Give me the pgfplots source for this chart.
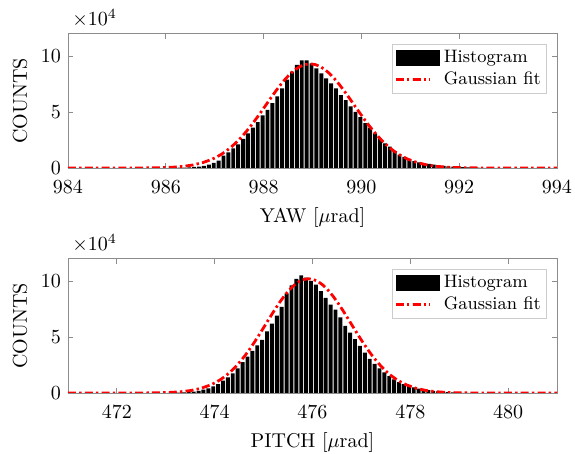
\documentclass[border=0pt]{standalone}
\usepackage{pgfplots}
\pgfplotsset{compat=1.18}
\definecolor{axgray}{gray}{0.55}
\pgfplotsset{
  histstyle/.style={
    scale only axis, width=244.5pt, height=67.2pt,
    ymin=0, ymax=120000,
    ytick={0,50000,100000},
    scaled y ticks=base 10:-4,
    tick scale binop=\times,
    every y tick scale label/.style={at={(rel axis cs:0,1)}, anchor=south west, inner sep=0pt, xshift=2pt, yshift=3pt},
    axis line style={axgray}, every tick/.style={axgray},
    tick align=inside, major tick length=2.5pt,
    xticklabel style={yshift=-3pt},
    ylabel={COUNTS},
    legend style={at={(rel axis cs:0.98,0.925)}, anchor=north east, draw=gray!40, fill=white, font=\small, inner sep=1pt, row sep=-1pt},
    legend cell align=left,
  },
  fitstyle/.style={red, line width=1.4pt, dash pattern=on 4pt off 1.6pt on 1.2pt off 1.6pt},
  barstyle/.style={ybar, bar width=0.08, fill=black, draw=none,
    legend image code/.code={\fill[black] (0pt,-4pt) rectangle (22pt,4pt);}},
}
\begin{document}
\begin{tikzpicture}
\useasboundingbox (0pt,0pt) rectangle (287.5pt,227pt);
\begin{axis}[histstyle, at={(34pt,143pt)}, anchor=south west,
  xmin=984, xmax=994, xtick={984,986,988,990,992,994},
  xlabel={YAW [$\mu$rad]}]
\addplot[barstyle] coordinates {
(986.08,100) (986.18,200) (986.28,300) (986.38,400) (986.48,600) (986.58,900)
(986.68,1300) (986.78,2000) (986.88,3000) (986.98,4500) (987.08,6500) (987.18,11000)
(987.28,14000) (987.38,17500) (987.48,21000) (987.58,26000) (987.68,31000) (987.78,36000)
(987.88,41000) (987.98,47000) (988.08,52000) (988.18,58000) (988.28,64000) (988.38,71000)
(988.48,79000) (988.58,86000) (988.68,92000) (988.78,96000) (988.88,96000) (988.98,93500)
(989.08,89000) (989.18,84500) (989.28,80000) (989.38,75500) (989.48,71000) (989.58,65000)
(989.68,60500) (989.78,55000) (989.88,50000) (989.98,45500) (990.08,40000) (990.18,36000)
(990.28,31000) (990.38,26500) (990.48,22000) (990.58,19000) (990.68,15000) (990.78,12000)
(990.88,10000) (990.98,7800) (991.08,6200) (991.18,5000) (991.28,4200) (991.38,3600)
(991.48,3000) (991.58,2400) (991.68,1800) (991.78,1500) (991.88,1200) (991.98,900)
(992.08,700) (992.18,500) (992.28,400) (992.38,300) (992.48,200) (992.58,100)
};
\addlegendentry{Histogram}
\addplot[fitstyle] coordinates {
(984,0) (984.95,0) (985.35,30) (985.65,110) (985.95,360) (986.15,730) (986.35,1430)
(986.55,2660) (986.75,4690) (986.95,7880) (987.05,10020) (987.15,12580) (987.25,15610)
(987.35,19150) (987.45,23190) (987.55,27730) (987.65,32760) (987.75,38230) (987.85,44060)
(987.95,50160) (988.05,56400) (988.15,62640) (988.25,68730) (988.35,74470) (988.45,79700)
(988.55,84260) (988.65,87980) (988.75,90730) (988.85,92420) (988.95,93000)
(989.05,92420) (989.15,90730) (989.25,87980) (989.35,84260) (989.45,79700) (989.55,74470)
(989.65,68730) (989.75,62640) (989.85,56400) (989.95,50160) (990.05,44060) (990.15,38230)
(990.25,32760) (990.35,27730) (990.45,23190) (990.55,19150) (990.65,15610) (990.75,12580)
(990.85,10020) (990.95,7880) (991.15,4690) (991.35,2660) (991.55,1430) (991.75,730)
(991.95,360) (992.25,110) (992.55,30) (992.95,0) (994,0)
};
\addlegendentry{Gaussian fit}
\end{axis}
\begin{axis}[histstyle, at={(34pt,30.5pt)}, anchor=south west,
  xmin=471, xmax=481, xtick={472,474,476,478,480},
  xlabel={PITCH [$\mu$rad]}]
\addplot[barstyle] coordinates {
(473.07,100) (473.17,200) (473.27,300) (473.37,500) (473.47,800) (473.57,1200)
(473.67,1800) (473.77,3000) (473.87,4200) (473.97,5800) (474.07,8000) (474.17,11000)
(474.27,14000) (474.37,17500) (474.47,22000) (474.57,27500) (474.67,32500) (474.77,37500)
(474.87,42500) (474.97,47500) (475.07,55000) (475.17,62000) (475.27,69000) (475.37,77000)
(475.47,89000) (475.57,96000) (475.67,102000) (475.77,105000) (475.87,103000) (475.97,100000)
(476.07,96700) (476.17,91000) (476.27,85000) (476.37,79000) (476.47,74500) (476.57,67500)
(476.67,60000) (476.77,54000) (476.87,48000) (476.97,42000) (477.07,36000) (477.17,30500)
(477.27,26000) (477.37,22000) (477.47,18500) (477.57,15000) (477.67,12200) (477.77,9800)
(477.87,8000) (477.97,6400) (478.07,5000) (478.17,4000) (478.27,3200) (478.37,2500)
(478.47,1900) (478.57,1400) (478.67,1000) (478.77,700) (478.87,500) (478.97,300)
(479.07,200) (479.17,100)
};
\addlegendentry{Histogram}
\addplot[fitstyle] coordinates {
(471,0) (471.92,0) (472.32,20) (472.62,80) (472.92,270) (473.12,580) (473.32,1170)
(473.52,2270) (473.72,4170) (473.92,7260) (474.02,9400) (474.12,12000) (474.22,15120)
(474.32,18800) (474.42,23070) (474.52,27950) (474.62,33400) (474.72,39400) (474.82,45870)
(474.92,52690) (475.02,59730) (475.12,66830) (475.22,73790) (475.32,80410) (475.42,86470)
(475.52,91770) (475.62,96110) (475.72,99340) (475.82,101330) (475.92,102000)
(476.02,101330) (476.12,99340) (476.22,96110) (476.32,91770) (476.42,86470) (476.52,80410)
(476.62,73790) (476.72,66830) (476.82,59730) (476.92,52690) (477.02,45870) (477.12,39400)
(477.22,33400) (477.32,27950) (477.42,23070) (477.52,18800) (477.62,15120) (477.72,12000)
(477.82,9400) (477.92,7260) (478.12,4170) (478.32,2270) (478.52,1170) (478.72,580)
(478.92,270) (479.22,80) (479.52,20) (479.92,0) (481,0)
};
\addlegendentry{Gaussian fit}
\end{axis}
\end{tikzpicture}
\end{document}
